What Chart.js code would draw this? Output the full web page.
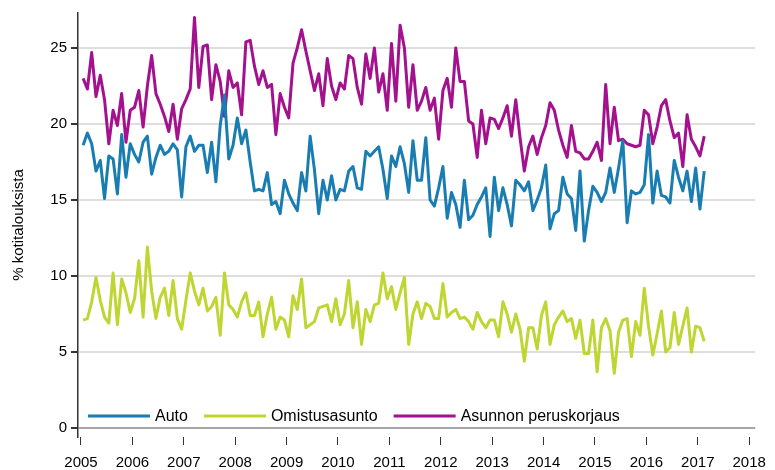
<!DOCTYPE html>
<html>
<head>
<meta charset="utf-8">
<script src="https://cdn.jsdelivr.net/npm/chart.js@4/dist/chart.umd.min.js"></script>
<style>
    html, body { margin: 0; padding: 0; background: #fff; }
    #wrap { width: 775px; height: 470px; }
</style>
</head>
<body>
<div id="wrap"><canvas id="chart" width="775" height="470"></canvas></div>
<script>
// monthly series, Jan 2005 .. Feb 2017
const firstYear = 2005;
const yearTicks = [2005, 2006, 2007, 2008, 2009, 2010, 2011, 2012, 2013, 2014, 2015, 2016, 2017, 2018];
const yTicks = [0, 5, 10, 15, 20, 25];
const seriesNames = ['Auto', 'Omistusasunto', 'Asunnon peruskorjaus'];

const auto = [
    18.6, 19.4, 18.7, 16.9, 17.6, 15.1, 17.9, 17.7, 15.4, 19.3, 16.5, 18.7,
    18.0, 17.5, 18.8, 19.2, 16.7, 17.8, 18.6, 18.0, 18.2, 18.7, 18.3, 15.2,
    18.5, 19.2, 18.2, 18.6, 18.6, 16.8, 18.8, 16.2, 19.9, 21.9, 17.7, 18.6,
    20.4, 18.7, 19.6, 17.5, 15.6, 15.7, 15.6, 16.8, 14.7, 14.9, 14.1, 16.3,
    15.4, 14.8, 14.3, 16.8, 15.6, 19.2, 17.0, 14.1, 16.3, 15.0, 16.6, 15.0,
    15.7, 15.6, 16.9, 17.2, 15.8, 15.7, 18.2, 17.9, 18.2, 18.5, 17.0, 15.1,
    17.9, 17.2, 18.5, 17.4, 15.5, 18.9, 16.3, 16.3, 19.1, 15.0, 14.6, 15.8,
    17.2, 13.8, 15.5, 14.7, 13.2, 16.3, 13.7, 14.0, 14.7, 15.2, 15.8, 12.6,
    16.5, 14.3, 15.8, 14.7, 13.3, 16.3, 16.0, 15.6, 16.2, 14.3, 15.0, 15.8,
    17.3, 13.1, 14.1, 14.3, 16.5, 15.4, 15.1, 13.0, 16.9, 12.3, 14.3, 15.9,
    15.5, 14.9, 15.5, 17.1, 15.5, 17.1, 18.9, 13.5, 15.6, 15.4, 15.5, 16.0,
    19.3, 14.8, 16.9, 15.3, 15.2, 14.8, 17.6, 16.5, 15.6, 16.9, 14.9, 17.1,
    14.4, 16.9
];

const omistusasunto = [
    7.1, 7.2, 8.3, 9.9, 8.4, 7.3, 6.9, 10.2, 6.8, 9.8, 8.9, 7.6,
    8.5, 11.0, 7.3, 11.9, 9.0, 7.2, 8.6, 9.2, 7.4, 9.7, 7.2, 6.5,
    8.4, 10.2, 9.0, 8.1, 9.2, 7.7, 8.0, 8.6, 6.1, 10.2, 8.1, 7.8,
    7.3, 8.3, 8.9, 7.4, 7.4, 8.3, 6.0, 7.5, 8.6, 6.5, 7.3, 7.1,
    6.0, 8.7, 7.8, 9.8, 6.6, 6.8, 7.0, 7.9, 8.0, 8.1, 7.0, 8.5,
    6.8, 7.5, 9.7, 6.6, 8.3, 5.5, 7.8, 7.0, 8.1, 8.2, 10.2, 8.5,
    9.3, 7.8, 8.9, 9.9, 5.5, 7.5, 8.3, 7.2, 8.2, 8.0, 7.2, 7.2,
    9.5, 7.3, 7.6, 7.8, 7.2, 7.3, 7.0, 6.5, 7.6, 7.0, 6.6, 7.1,
    7.1, 6.0, 8.3, 7.5, 6.3, 7.5, 6.5, 4.4, 6.6, 6.6, 5.2, 7.4,
    8.3, 5.5, 6.8, 7.3, 7.7, 7.0, 7.2, 5.9, 7.1, 4.9, 4.9, 7.1,
    3.7, 6.6, 7.2, 6.4, 3.6, 6.3, 7.1, 7.2, 4.7, 7.0, 6.1, 9.2,
    6.7, 4.8, 6.2, 7.7, 5.0, 5.3, 7.6, 5.5, 6.7, 7.9, 5.0, 6.7,
    6.6, 5.7
];

const peruskorjaus = [
    23.0, 22.3, 24.7, 21.8, 23.2, 21.6, 18.7, 20.9, 19.9, 22.0, 18.8, 20.9,
    21.1, 22.2, 19.8, 22.5, 24.5, 22.0, 21.3, 20.5, 19.5, 21.3, 19.0, 21.0,
    21.6, 22.3, 27.0, 22.4, 25.1, 25.2, 21.6, 23.9, 22.8, 20.5, 23.5, 22.4,
    22.7, 20.6, 25.4, 25.5, 23.8, 22.6, 23.5, 22.4, 22.6, 19.3, 22.0, 21.1,
    20.4, 24.0, 25.0, 26.2, 24.8, 23.5, 22.2, 23.3, 21.2, 24.3, 22.5, 21.6,
    22.7, 22.3, 24.5, 24.3, 22.4, 21.3, 24.6, 23.0, 25.0, 22.1, 23.3, 20.9,
    25.3, 21.5, 26.5, 25.0, 21.1, 23.9, 20.9, 21.5, 22.4, 20.9, 21.7, 19.0,
    22.2, 23.0, 21.1, 25.0, 22.8, 22.8, 20.2, 20.0, 17.8, 20.9, 18.7, 20.4,
    20.3, 19.7, 20.4, 21.2, 19.2, 21.6, 19.1, 16.9, 18.5, 19.2, 18.0, 19.1,
    19.9, 21.4, 20.9, 19.6, 18.6, 17.8, 19.9, 18.2, 18.1, 17.7, 17.7, 18.2,
    18.8, 17.6, 22.6, 18.7, 21.1, 18.9, 19.0, 18.7, 18.6, 18.5, 18.6, 20.9,
    20.6, 18.7, 19.8, 21.2, 21.6, 20.2, 19.1, 19.4, 17.2, 20.6, 19.0, 18.5,
    17.9, 19.2
];

const colors = ['#1a7db2', '#bfd632', '#a3118e'];

// month midpoints on a year axis
const months = auto.map((_, i) => firstYear + (i + 0.5) / 12);
const toPoints = arr => arr.map((v, i) => ({ x: months[i], y: v }));

const FONT = "'Liberation Sans', Arial, sans-serif";

// legend drawn inside the plot, bottom left
const insideLegend = {
    id: 'insideLegend',
    afterDraw(chart) {
        const ctx = chart.ctx;
        const area = chart.chartArea;
        let x = area.left + 10;
        const y = area.bottom - 21;
        ctx.save();
        ctx.font = '16px ' + FONT;
        ctx.textBaseline = 'middle';
        ctx.fillStyle = '#000';
        seriesNames.forEach((name, i) => {
            ctx.strokeStyle = colors[i];
            ctx.lineWidth = 3;
            ctx.beginPath();
            ctx.moveTo(x, y);
            ctx.lineTo(x + 62, y);
            ctx.stroke();
            ctx.fillText(name, x + 67, y + 1);
            x += 67 + ctx.measureText(name).width + 16;
        });
        ctx.restore();
    }
};

new Chart(document.getElementById('chart'), {
    type: 'line',
    data: {
        datasets: [
            { label: seriesNames[0], data: toPoints(auto), borderColor: colors[0] },
            { label: seriesNames[1], data: toPoints(omistusasunto), borderColor: colors[1] },
            { label: seriesNames[2], data: toPoints(peruskorjaus), borderColor: colors[2] }
        ]
    },
    options: {
        responsive: false,
        animation: false,
        events: [],
        layout: { padding: { left: 0, right: 13, top: 12, bottom: 0 } },
        elements: {
            line: { borderWidth: 3, tension: 0, borderJoinStyle: 'round' },
            point: { radius: 0 }
        },
        scales: {
            x: {
                type: 'linear',
                min: 2004.942,
                max: 2018.116,
                afterBuildTicks: scale => { scale.ticks = yearTicks.map(v => ({ value: v })); },
                afterFit: scale => { scale.height = 33; },
                ticks: {
                    color: '#000',
                    font: { family: FONT, size: 15 },
                    padding: 9,
                    maxRotation: 0,
                    autoSkip: false,
                    callback: v => String(v)
                },
                grid: { drawOnChartArea: false, tickLength: 8, tickColor: '#333', lineWidth: 1 },
                border: { display: false }
            },
            y: {
                min: -0.59,
                max: 27.3,
                afterBuildTicks: scale => { scale.ticks = yTicks.map(v => ({ value: v })); },
                afterFit: scale => { scale.width = 78; },
                ticks: {
                    color: '#000',
                    font: { family: FONT, size: 15 },
                    padding: 4
                },
                grid: {
                    color: ctx => (ctx.tick && ctx.tick.value === 0) ? '#a6a6a6' : '#dedede',
                    lineWidth: 2,
                    tickLength: 7,
                    tickColor: '#333'
                },
                border: { display: true, color: '#333', width: 1.5 },
                title: {
                    display: true,
                    text: '% kotitalouksista',
                    color: '#000',
                    font: { family: FONT, size: 15 },
                    padding: { top: 10, bottom: 0 }
                }
            }
        },
        plugins: {
            legend: { display: false },
            tooltip: { enabled: false }
        }
    },
    plugins: [insideLegend]
});
</script>
</body>
</html>
